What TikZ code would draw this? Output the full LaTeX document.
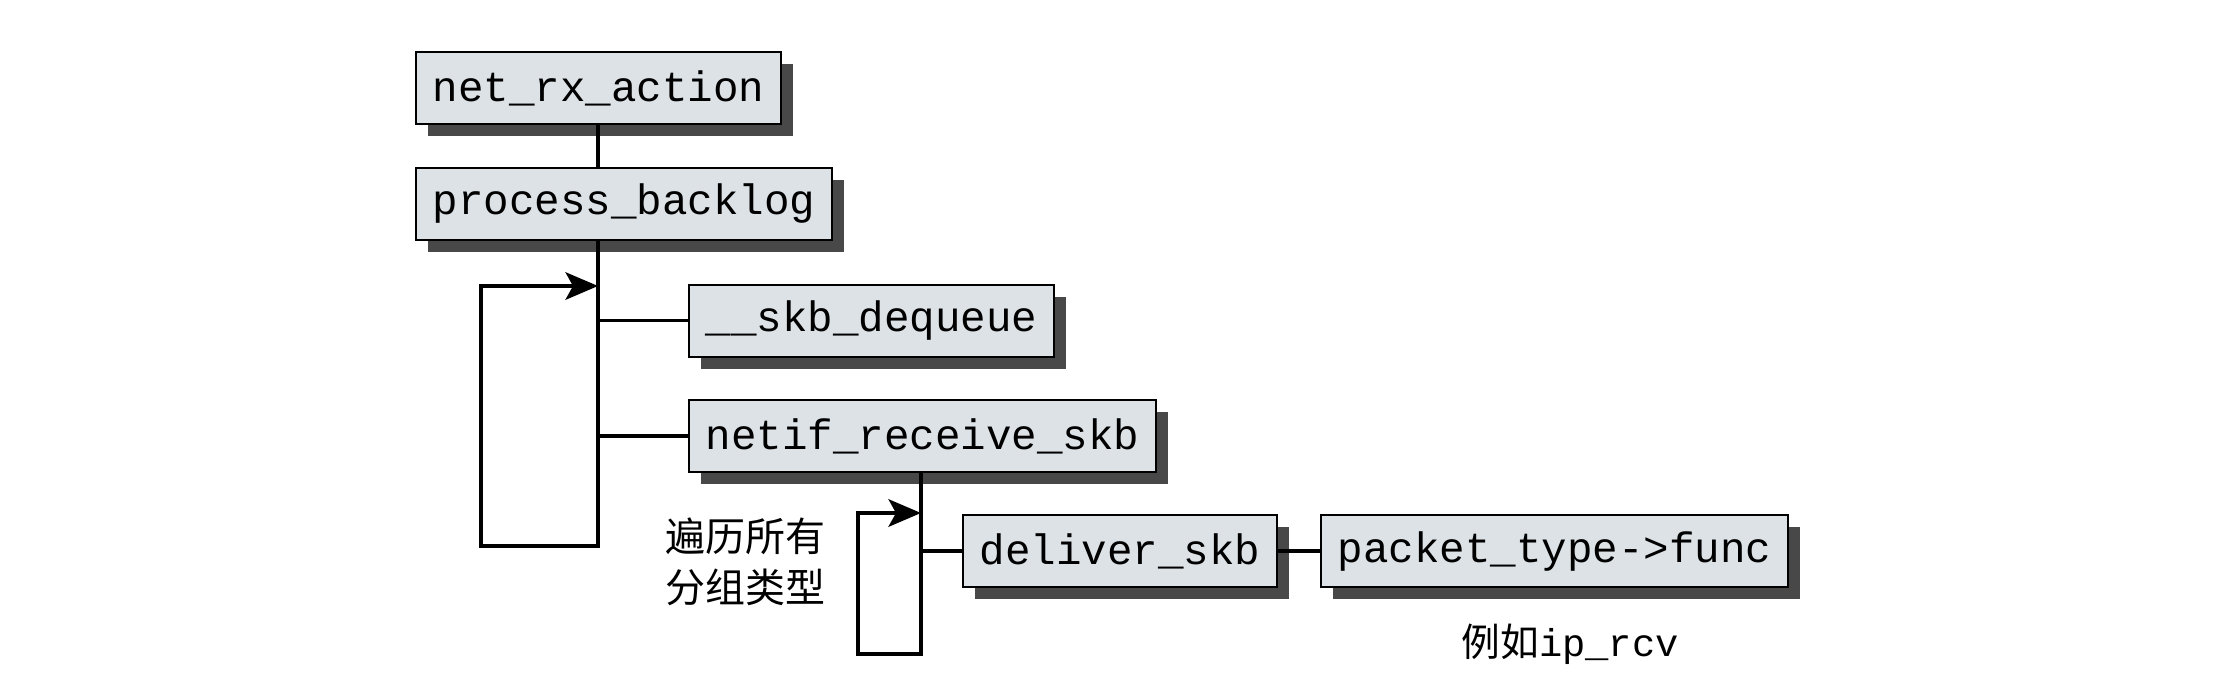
\documentclass[tikz,border=0pt]{standalone}
\usepackage{fontspec}
\newfontfamily\monof{Liberation Mono}
\newfontfamily\cjkf{Noto Sans CJK SC}
\usetikzlibrary{arrows.meta,shadows}
\definecolor{boxfill}{HTML}{DCE2E6}
\definecolor{shadowc}{HTML}{484848}
\begin{document}
\begin{tikzpicture}[x=0.4pt,y=-0.4pt,
  fn/.style={draw=black, line width=0.8pt, fill=boxfill, anchor=west,
    font=\monof\fontsize{17pt}{20pt}\selectfont, inner xsep=6.6pt, inner ysep=0pt,
    minimum height=28.8pt,
    general shadow={fill=shadowc, draw=none, shadow xshift=4.8pt, shadow yshift=-4.8pt}},
  conn/.style={draw=black, line width=1.3pt, line join=miter},
  loopar/.style={draw=black, line width=1.5pt, line join=miter, -{Stealth[length=13pt,width=11pt,inset=3pt]}},
  cjklabel/.style={font=\cjkf\fontsize{16pt}{20.4pt}\selectfont, align=center, inner sep=0pt},
  eglabel/.style={font=\fontsize{15.5pt}{18pt}\selectfont, inner sep=0pt}]
\useasboundingbox (0,0) rectangle (2216,688);

\node[fn] (nra) at (415,88) {net\_rx\_action};
\node[fn] (pb) at (415,204) {process\_backlog};
\node[fn] (deq) at (688,320.5) {\_\_skb\_dequeue};
\node[fn] (nrs) at (688,436) {netif\_receive\_skb};
\node[fn] (dsk) at (962,551) {deliver\_skb};
\node[fn] (ptf) at (1320,551) {packet\_type->func};

\coordinate (t1top) at (598,286);
\coordinate (t1bot) at (598,546);
\coordinate (l1bl) at (481,546);
\coordinate (l1tl) at (481,286);
\coordinate (t2top) at (921,513);
\coordinate (t2bot) at (921,654);
\coordinate (l2bl) at (858,654);
\coordinate (l2tl) at (858,513);

\draw[conn] (nra.south -| t1top) -- (pb.north -| t1top);
\draw[conn] (deq.west -| t1top) -- (deq.west);
\draw[conn] (nrs.west -| t1top) -- (nrs.west);
\draw[loopar] (pb.south -| t1top) -- (t1bot) -- (l1bl) -- (l1tl) -- (t1top);

\draw[conn] (dsk.west -| t2top) -- (dsk.west);
\draw[conn] (dsk.east) -- (ptf.west);
\draw[loopar] (nrs.south -| t2top) -- (t2bot) -- (l2bl) -- (l2tl) -- (t2top);

\node[cjklabel] (loopnote) at (745,562) {遍历所有\\分组类型};
\node[eglabel] (egnote) at (1570,644) {{\cjkf 例如}{\monof ip\_rcv}};
\end{tikzpicture}
\end{document}
